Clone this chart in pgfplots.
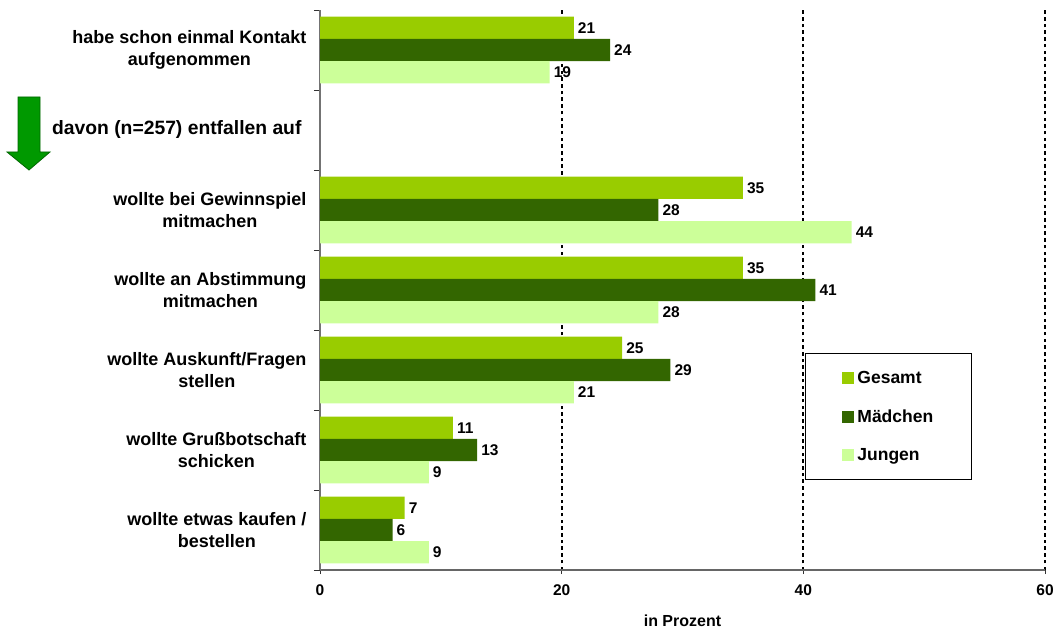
\documentclass[border=0pt]{standalone}
\usepackage{pgfplots}
\pgfplotsset{compat=1.18}
\usepackage{fontspec}
\setmainfont{Liberation Sans}
\definecolor{gesamt}{HTML}{99CC00}
\definecolor{maedchen}{HTML}{336600}
\definecolor{jungen}{HTML}{CCFF99}
\definecolor{arrowgreen}{HTML}{009900}
\begin{document}
\begin{tikzpicture}[x=1pt,y=1pt]
\useasboundingbox (0,0) rectangle (1057,632);
\begin{axis}[
  at={(320pt,62pt)}, anchor=south west,
  scale only axis, width=725pt, height=560pt,
  xmin=0, xmax=60, ymin=-0.5, ymax=6.5,
  axis x line*=bottom, axis y line*=left,
  x axis line style={black!60, line width=1.4pt},
  y axis line style={black!55, line width=1.5pt},
  /pgf/number format/assume math mode=true,
  xtick={0,20,40,60},
  xmajorgrids,
  major grid style={black, line width=2pt, dash pattern=on 3.5pt off 3.2pt},
  tick align=outside,
  major tick length=4pt, minor tick length=6pt,
  every tick/.style={black!80, line width=1pt},
  major y tick style={draw=none},
  ytick={0,...,6},
  minor ytick={-0.5,0.5,...,6.5},
  yticklabels={{wollte etwas kaufen /\\bestellen},{wollte Grußbotschaft\\schicken},{wollte Auskunft/Fragen\\stellen},{wollte an Abstimmung\\mitmachen},{wollte bei Gewinnspiel\\mitmachen},{\fontsize{19.3}{23}\selectfont davon (n=257) entfallen auf\rule{5pt}{0pt}},{habe schon einmal Kontakt\\aufgenommen}},
  yticklabel style={align=center, font=\bfseries\fontsize{18}{21.6}\selectfont, xshift=-6pt},
  xticklabel style={font=\bfseries\fontsize{15.5}{18}\selectfont, yshift=-7pt},
  xlabel={in Prozent},
  xlabel style={at={(axis description cs:0.5,0)}, anchor=center, yshift=-51pt, font=\bfseries\fontsize{16}{19}\selectfont},
  xbar, bar width=0.279,
  point meta=x,
  nodes near coords,
  nodes near coords style={font=\bfseries\fontsize{15.5}{18}\selectfont, anchor=west, inner sep=0pt, xshift=4pt, black},
  legend image code/.code={\fill[#1] (0pt,-6pt) rectangle (12pt,6pt);},
  legend style={at={(0.669,0.3875)}, anchor=north west, draw=black, line width=0.8pt,
    font=\bfseries\fontsize{17.5}{20}\selectfont,
    inner xsep=37pt, inner ysep=17pt, row sep=22.5pt,
    nodes={inner sep=1pt},
    /tikz/every odd column/.append style={column sep=2pt}},
  legend cell align=left,
]
\addplot[fill=gesamt, draw=none, bar shift=0.279] coordinates {(21,6) (35,4) (35,3) (25,2) (11,1) (7,0)};
\addplot[fill=maedchen, draw=none, bar shift=0] coordinates {(24,6) (28,4) (41,3) (29,2) (13,1) (6,0)};
\addplot[fill=jungen, draw=none, bar shift=-0.279] coordinates {(19,6) (44,4) (28,3) (21,2) (9,1) (9,0)};
\legend{Gesamt, Mädchen, Jungen}
\end{axis}
\draw[fill=arrowgreen, draw=black!60!green, line width=0.8pt] (18,535) -- (40,535) -- (40,480) -- (50,480) -- (29,462) -- (7,480) -- (18,480) -- cycle;
\end{tikzpicture}
\end{document}
